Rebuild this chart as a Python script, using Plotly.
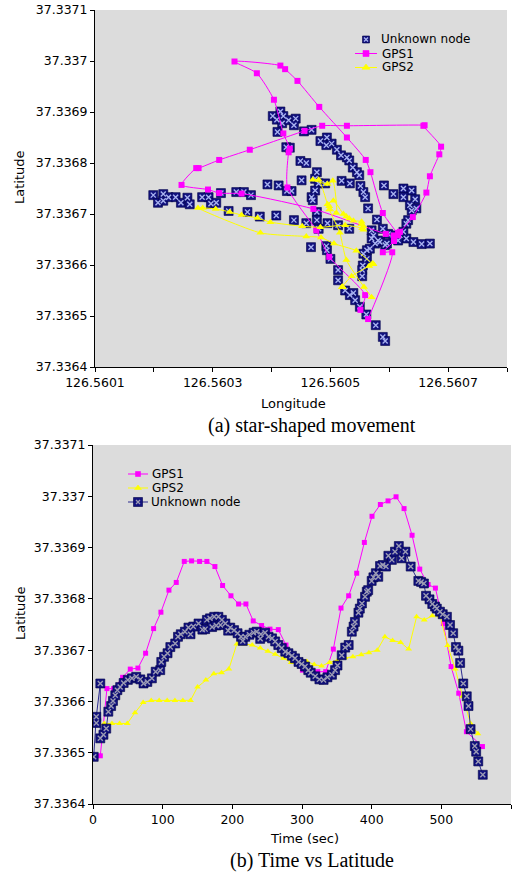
import plotly.graph_objects as go

# ---------------- data ----------------
# GPS1 (magenta): time (s), latitude, longitude
GPS1_T = [10.5, 20.0, 29.6, 42.5, 53.5, 64.5, 75.5, 87.0, 97.5, 109.0, 119.5, 131.0, 141.5, 153.0, 163.5,
          175.0, 186.0, 198.0, 209.0, 219.5, 230.0, 242.0, 254.0, 266.0, 277.0, 300.6, 322.6, 334.0, 345.0,
          356.0, 367.0, 378.5, 389.5, 400.5, 412.5, 423.5, 435.0, 446.5, 458.0, 469.0, 481.0, 491.5, 503.0,
          514.0, 525.0, 536.0, 559.0]
GPS1_LAT = [37.336494, 37.336625, 37.336625, 37.336647, 37.336663, 37.336665, 37.336694, 37.336742, 37.336774,
            37.336817, 37.336832, 37.336873, 37.336874, 37.336873, 37.336873, 37.336863, 37.336826, 37.336806,
            37.336790, 37.336790, 37.336757, 37.336748, 37.336741, 37.336740, 37.336710, 37.336661, 37.336658,
            37.336658, 37.336702, 37.336782, 37.336806, 37.336850, 37.336910, 37.336961, 37.336984, 37.336991,
            37.336999, 37.336976, 37.336924, 37.336858, 37.336828, 37.336821, 37.336752, 37.336668, 37.336616,
            37.336541, 37.336512]
GPS1_LON = [126.560564, 126.560605, 126.560589, 126.560608, 126.560615, 126.560618, 126.560640, 126.560663,
            126.560669, 126.560685, 126.560688, 126.560658, 126.560660, 126.560528, 126.560486, 126.560456,
            126.560363, 126.560311, 126.560276, 126.560272, 126.560247, 126.560292, 126.560311, 126.560349,
            126.560471, 126.560594, 126.560608, 126.560615, 126.560589, 126.560568, 126.560560, 126.560528,
            126.560481, 126.560444, 126.560423, 126.560415, 126.560337, 126.560375, 126.560404, 126.560420,
            126.560431, 126.560429, 126.560427, 126.560476, 126.560498, 126.560559, 126.560551]

# GPS2 (yellow)
GPS2_T = [16.2, 27.2, 38.2, 49.2, 60.2, 72.0, 83.6, 95.0, 106.5, 117.6, 129.0, 140.0, 150.0, 162.0, 173.5,
          184.5, 195.0, 206.5, 217.5, 228.5, 240.0, 251.0, 261.5, 273.5, 284.5, 296.0, 307.0, 317.5, 328.0,
          339.5, 351.0, 362.0, 373.0, 385.0, 396.0, 408.0, 419.0, 430.0, 441.5, 453.0, 464.5, 475.5, 487.0,
          498.0, 509.0, 520.0, 530.5, 542.0, 552.5]
GPS2_LAT = [37.336557, 37.336557, 37.336557, 37.336557, 37.336578, 37.336598, 37.336602, 37.336602, 37.336602,
            37.336602, 37.336602, 37.336602, 37.336628, 37.336642, 37.336654, 37.336656, 37.336663, 37.336712,
            37.336712, 37.336710, 37.336704, 37.336698, 37.336692, 37.336684, 37.336676, 37.336674, 37.336678,
            37.336672, 37.336669, 37.336676, 37.336680, 37.336685, 37.336687, 37.336691, 37.336695, 37.336700,
            37.336726, 37.336719, 37.336715, 37.336702, 37.336765, 37.336759, 37.336767, 37.336767, 37.336709,
            37.336663, 37.336610, 37.336557, 37.336537]
GPS2_LON = [126.560520, 126.560520, 126.560521, 126.560520, 126.560536, 126.560566, 126.560572, 126.560572,
            126.560571, 126.560572, 126.560573, 126.560572, 126.560544, 126.560506, 126.560484, 126.560459,
            126.560381, 126.560275, 126.560283, 126.560305, 126.560329, 126.560349, 126.560376, 126.560398,
            126.560452, 126.560483, 126.560525, 126.560554, 126.560556, 126.560556, 126.560553, 126.560553,
            126.560539, 126.560532, 126.560527, 126.560522, 126.560505, 126.560495, 126.560498, 126.560510,
            126.560504, 126.560495, 126.560470, 126.560480, 126.560498, 126.560516, 126.560527, 126.560557,
            126.560570]

# Unknown node estimated positions (panel a)
UN_LON = [126.560199, 126.560207, 126.560216, 126.560216, 126.560225, 126.560237, 126.560246, 126.560257,
          126.560261, 126.560282, 126.560293, 126.560297, 126.560306, 126.560314, 126.560327, 126.560340,
          126.560353, 126.560359, 126.560365, 126.560380, 126.560408, 126.560438, 126.560459, 126.560467,
          126.560393, 126.560412, 126.560426, 126.560434, 126.560402, 126.560415, 126.560409, 126.560420,
          126.560418, 126.560429, 126.560441, 126.560438, 126.560410, 126.560455, 126.560468, 126.560425,
          126.560431, 126.560449, 126.560459, 126.560483, 126.560494, 126.560493, 126.560502, 126.560511,
          126.560518, 126.560528, 126.560532, 126.560538, 126.560545, 126.560549, 126.560551, 126.560556,
          126.560559, 126.560564, 126.560579, 126.560451, 126.560477, 126.560474, 126.560480, 126.560491,
          126.560474, 126.560468, 126.560470, 126.560519, 126.560533, 126.560477, 126.560477, 126.560480,
          126.560495, 126.560513, 126.560532, 126.560493, 126.560494, 126.560500, 126.560513, 126.560513,
          126.560525, 126.560533, 126.560539, 126.560542, 126.560550, 126.560561, 126.560577, 126.560589,
          126.560593, 126.560591, 126.560607, 126.560624, 126.560638, 126.560624, 126.560644, 126.560635,
          126.560638, 126.560646, 126.560632, 126.560629, 126.560598, 126.560607, 126.560624, 126.560629,
          126.560641, 126.560655, 126.560669, 126.560570, 126.560589, 126.560570, 126.560576, 126.560584,
          126.560593, 126.560562, 126.560567, 126.560556, 126.560562, 126.560555, 126.560554, 126.560554,
          126.560581, 126.560596, 126.560573, 126.560618, 126.560615]
UN_LAT = [37.336737, 37.336722, 37.336739, 37.336726, 37.336733, 37.336733, 37.336722, 37.336732, 37.336719,
          37.336733, 37.336733, 37.336720, 37.336722, 37.336741, 37.336706, 37.336743, 37.336743, 37.336704,
          37.336737, 37.336695, 37.336697, 37.336688, 37.336682, 37.336635, 37.336758, 37.336756, 37.336745,
          37.336745, 37.336892, 37.336901, 37.336885, 37.336892, 37.336878, 37.336884, 37.336887, 37.336874,
          37.336861, 37.336862, 37.336865, 37.336831, 37.336830, 37.336804, 37.336800, 37.336843, 37.336850,
          37.336835, 37.336838, 37.336826, 37.336815, 37.336811, 37.336805, 37.336791, 37.336782, 37.336776,
          37.336755, 37.336743, 37.336733, 37.336711, 37.336689, 37.336766, 37.336782, 37.336769, 37.336760,
          37.336760, 37.336746, 37.336733, 37.336727, 37.336765, 37.336760, 37.336704, 37.336688, 37.336671,
          37.336682, 37.336678, 37.336671, 37.336637, 37.336629, 37.336612, 37.336590, 37.336570, 37.336550,
          37.336541, 37.336545, 37.336531, 37.336518, 37.336503, 37.336482, 37.336459, 37.336451, 37.336756,
          37.336739, 37.336750, 37.336746, 37.336733, 37.336729, 37.336717, 37.336707, 37.336711, 37.336688,
          37.336681, 37.336661, 37.336658, 37.336665, 37.336652, 37.336645, 37.336641, 37.336642, 37.336668,
          37.336671, 37.336652, 37.336642, 37.336645, 37.336639, 37.336629, 37.336632, 37.336622, 37.336612,
          37.336599, 37.336590, 37.336578, 37.336648, 37.336642, 37.336658, 37.336658, 37.336648]

# Unknown node latitude over time (panel b)
UN_T = [1, 4.7, 4.7, 10.5, 10.5, 15, 19, 22, 26, 28.7, 32, 35, 39, 44, 50, 56, 62, 68, 72.5, 78, 84.5, 90,
        96.5, 98, 102, 107, 111, 118, 122, 126, 132, 137, 140, 144, 151.5, 157, 161, 163.5, 168, 171, 174, 177,
        180, 183, 185, 190, 194, 197, 202.5, 207.5, 212.5, 215, 218.5, 224.5, 230.5, 235, 240, 241, 247, 252,
        257, 261.5, 266, 271, 276, 280.5, 285.5, 290, 295, 299.5, 304.5, 309, 312.5, 319, 325, 331, 336.5,
        343, 347.5, 351, 357, 362, 367, 371.5, 374, 376, 381, 383, 386, 390.5, 393, 395, 400, 402.5, 406,
        409.5, 412, 416, 420.5, 424, 429, 433.5, 439, 443, 448.5, 456, 467, 471, 475, 478, 483, 487, 491,
        493.5, 498, 502, 508, 512.5, 517, 521, 524.5, 527, 531.5, 536.5, 539, 542, 548, 550, 553, 559.5]
UN_TLAT = [37.336492, 37.336558, 37.336570, 37.336635, 37.336528, 37.336535, 37.336547, 37.336580, 37.336591,
           37.336601, 37.336612, 37.336622, 37.336628, 37.336636, 37.336642, 37.336645, 37.336648, 37.336643,
           37.336635, 37.336638, 37.336645, 37.336658, 37.336661, 37.336677, 37.336687, 37.336694, 37.336706,
           37.336713, 37.336726, 37.336731, 37.336736, 37.336744, 37.336731, 37.336746, 37.336752, 37.336740,
           37.336741, 37.336759, 37.336762, 37.336745, 37.336765, 37.336748, 37.336765, 37.336749, 37.336759,
           37.336752, 37.336738, 37.336744, 37.336739, 37.336733, 37.336726, 37.336718, 37.336726, 37.336730,
           37.336734, 37.336736, 37.336722, 37.336731, 37.336734, 37.336726, 37.336723, 37.336717, 37.336710,
           37.336704, 37.336697, 37.336694, 37.336689, 37.336684, 37.336677, 37.336673, 37.336668, 37.336661,
           37.336656, 37.336649, 37.336643, 37.336642, 37.336647, 37.336652, 37.336661, 37.336670, 37.336690,
           37.336705, 37.336710, 37.336736, 37.336746, 37.336755, 37.336773, 37.336781, 37.336791, 37.336804,
           37.336814, 37.336817, 37.336835, 37.336842, 37.336850, 37.336843, 37.336864, 37.336866, 37.336863,
           37.336884, 37.336876, 37.336892, 37.336903, 37.336879, 37.336892, 37.336863, 37.336835, 37.336833,
           37.336830, 37.336806, 37.336799, 37.336790, 37.336785, 37.336781, 37.336775, 37.336770, 37.336765,
           37.336749, 37.336733, 37.336706, 37.336699, 37.336675, 37.336635, 37.336610, 37.336591, 37.336546,
           37.336513, 37.336502, 37.336483, 37.336457]

LON_TICKS = [126.5601, 126.5602, 126.5603, 126.5604, 126.5605, 126.5606, 126.5607, 126.5608]
LON_LABELS = ["126.5601", "", "126.5603", "", "126.5605", "", "126.5607", ""]
LAT_TICKS = [37.3364, 37.3365, 37.3366, 37.3367, 37.3368, 37.3369, 37.337, 37.3371]
LAT_LABELS = ["37.3364", "37.3365", "37.3366", "37.3367", "37.3368", "37.3369", "37.337", "37.3371"]
TIME_TICKS = [0, 100, 200, 300, 400, 500, 600]

assert len(GPS1_T) == len(GPS1_LAT) == len(GPS1_LON)
assert len(GPS2_T) == len(GPS2_LAT) == len(GPS2_LON)
assert len(UN_LON) == len(UN_LAT)
assert len(UN_T) == len(UN_TLAT)

# ---------------- styles ----------------
W, H = 520, 873
MAG = "#ff00ff"
YEL = "#ffff00"
NAVY = "#12127e"
BG = "#dcdcdc"
TICKFONT = dict(family="DejaVu Sans", size=12.5, color="black")
LBLFONT = dict(family="DejaVu Sans", size=13, color="black")
LEGFONT = dict(family="DejaVu Sans", size=12, color="black")
CAPFONT = dict(family="Liberation Serif", size=20, color="black")

fig = go.Figure()

# ---- panel (a) ----
fig.add_trace(go.Scatter(x=UN_LON, y=UN_LAT, mode="markers", xaxis="x", yaxis="y",
                         marker=dict(symbol="square", size=9, color=NAVY,
                                     line=dict(color="#00004a", width=0.6)),
                         showlegend=False, hoverinfo="skip"))
fig.add_trace(go.Scatter(x=UN_LON, y=UN_LAT, mode="markers", xaxis="x", yaxis="y",
                         marker=dict(symbol="x-thin", size=5, color="#a8b2f0",
                                     line=dict(color="#a8b2f0", width=1.4)),
                         showlegend=False, hoverinfo="skip"))
fig.add_trace(go.Scatter(x=GPS1_LON, y=GPS1_LAT, mode="lines+markers", xaxis="x", yaxis="y",
                         line=dict(color=MAG, width=1, shape="spline", smoothing=0.6),
                         marker=dict(symbol="square", size=6, color=MAG),
                         showlegend=False))
fig.add_trace(go.Scatter(x=GPS2_LON, y=GPS2_LAT, mode="lines+markers", xaxis="x", yaxis="y",
                         line=dict(color=YEL, width=1, shape="spline", smoothing=0.6),
                         marker=dict(symbol="triangle-up", size=7, color=YEL),
                         showlegend=False))

# ---- panel (b) ----
fig.add_trace(go.Scatter(x=GPS1_T, y=GPS1_LAT, mode="lines+markers", xaxis="x2", yaxis="y2",
                         line=dict(color=MAG, width=1),
                         marker=dict(symbol="square", size=5, color=MAG),
                         showlegend=False))
fig.add_trace(go.Scatter(x=GPS2_T, y=GPS2_LAT, mode="lines+markers", xaxis="x2", yaxis="y2",
                         line=dict(color=YEL, width=1),
                         marker=dict(symbol="triangle-up", size=6, color=YEL),
                         showlegend=False))
fig.add_trace(go.Scatter(x=UN_T, y=UN_TLAT, mode="lines+markers", xaxis="x2", yaxis="y2",
                         line=dict(color="#2c2c90", width=1),
                         marker=dict(symbol="square", size=9, color=NAVY,
                                     line=dict(color="#00004a", width=0.6)),
                         showlegend=False))
fig.add_trace(go.Scatter(x=UN_T, y=UN_TLAT, mode="markers", xaxis="x2", yaxis="y2",
                         marker=dict(symbol="x-thin", size=5, color="#9c9cb4",
                                     line=dict(color="#9c9cb4", width=1.4)),
                         showlegend=False, hoverinfo="skip"))

# ---- custom legends drawn on a hidden pixel-space overlay ----
def legend_line(x0, x1, y, color):
    fig.add_trace(go.Scatter(x=[x0, x1], y=[y, y], mode="lines", xaxis="x3", yaxis="y3",
                             line=dict(color=color, width=1), showlegend=False, hoverinfo="skip"))

def legend_marker(x, y, symbol, size, color, inner=None, lc=None):
    fig.add_trace(go.Scatter(x=[x], y=[y], mode="markers", xaxis="x3", yaxis="y3",
                             marker=dict(symbol=symbol, size=size, color=color,
                                         line=dict(color=lc or color, width=0.6)),
                             showlegend=False, hoverinfo="skip"))
    if inner:
        fig.add_trace(go.Scatter(x=[x], y=[y], mode="markers", xaxis="x3", yaxis="y3",
                                 marker=dict(symbol="x-thin", size=4, color=inner,
                                             line=dict(color=inner, width=1.3)),
                                 showlegend=False, hoverinfo="skip"))

# top legend
legend_marker(366, 39.5, "square", 7, NAVY, inner="#a8b2f0", lc="#00004a")
legend_line(355, 377, 53.5, MAG)
legend_marker(366, 53.5, "square", 6, MAG)
legend_line(355, 377, 67.5, YEL)
legend_marker(366, 67.5, "triangle-up", 7, YEL)
# bottom legend
legend_line(128, 148, 474, MAG)
legend_marker(138, 474, "square", 5, MAG)
legend_line(128, 148, 488, YEL)
legend_marker(138, 488, "triangle-up", 6, YEL)
legend_line(128, 148, 502, "#2c2c90")
legend_marker(138, 502, "square", 9, NAVY, inner="#9c9cb4", lc="#00004a")

annotations = []
def text(x, y, s, font, xanchor="left", angle=0):
    annotations.append(dict(x=x / W, y=1 - y / H, xref="paper", yref="paper", text=s,
                            showarrow=False, xanchor=xanchor, yanchor="middle",
                            font=font, textangle=angle, borderpad=0))

text(380, 39.5, "Unknown node", LEGFONT)
text(381, 53.5, "GPS1", LEGFONT)
text(381, 67.5, "GPS2", LEGFONT)
text(151, 474, "GPS1", LEGFONT)
text(151, 488, "GPS2", LEGFONT)
text(150, 502, "Unknown node", LEGFONT)

text(20, 177, "Latitude", LBLFONT, xanchor="center", angle=-90)
text(293, 403, "Longitude", LBLFONT, xanchor="center")
text(312, 425, "(a) star-shaped movement", CAPFONT, xanchor="center")
text(20, 613, "Latitude", LBLFONT, xanchor="center", angle=-90)
text(304, 838, "Time (sec)", LBLFONT, xanchor="center")
text(312, 860, "(b) Time vs Latitude", CAPFONT, xanchor="center")

axis_common = dict(showgrid=False, zeroline=False, showline=True, linecolor="black", linewidth=1,
                   ticks="outside", ticklen=4, tickcolor="black", tickfont=TICKFONT, mirror=False,
                   automargin=False)

shapes = [
    dict(type="rect", xref="x domain", yref="y domain", x0=0, x1=1, y0=0, y1=1,
         fillcolor=BG, line=dict(width=0), layer="below"),
    dict(type="rect", xref="x2 domain", yref="y2 domain", x0=0, x1=1, y0=0, y1=1,
         fillcolor=BG, line=dict(width=0), layer="below"),
]

fig.update_layout(
    width=W, height=H,
    margin=dict(l=0, r=0, t=0, b=0),
    paper_bgcolor="white", plot_bgcolor="rgba(0,0,0,0)",
    showlegend=False,
    xaxis=dict(domain=[95 / W, 507 / W], anchor="y", range=[126.5601, 126.5608],
               tickvals=LON_TICKS, ticktext=LON_LABELS, **axis_common),
    yaxis=dict(domain=[1 - 367 / H, 1 - 10 / H], anchor="x", range=[37.3364, 37.3371],
               tickvals=LAT_TICKS, ticktext=LAT_LABELS, **axis_common),
    xaxis2=dict(domain=[93 / W, 511 / W], anchor="y2", range=[0, 600],
                tickvals=TIME_TICKS, **axis_common),
    yaxis2=dict(domain=[1 - 804 / H, 1 - 445 / H], anchor="x2", range=[37.3364, 37.3371],
                tickvals=LAT_TICKS, ticktext=LAT_LABELS, **axis_common),
    xaxis3=dict(domain=[0, 1], anchor="y3", range=[0, W], visible=False, fixedrange=True,
                automargin=False),
    yaxis3=dict(domain=[0, 1], anchor="x3", range=[H, 0], visible=False, fixedrange=True,
                automargin=False),
    annotations=annotations,
    shapes=shapes,
)

fig.write_html("out.html")
